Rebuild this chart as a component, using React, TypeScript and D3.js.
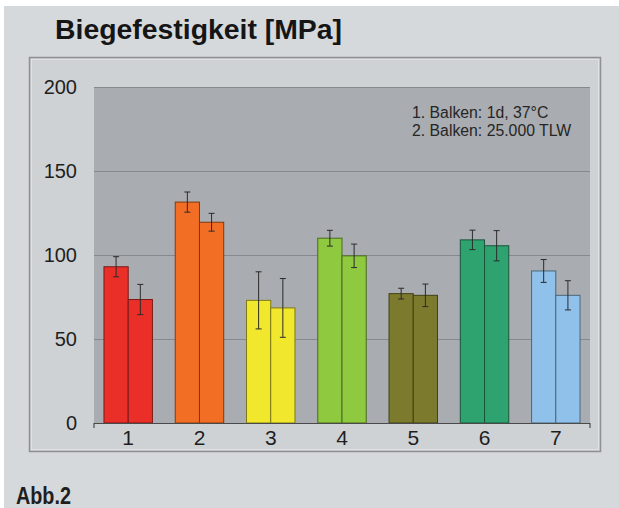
import React from 'react';
import * as d3 from 'd3';

// values
const groups = ['1', '2', '3', '4', '5', '6', '7'];
const series1 = [93, 131.5, 73, 110, 77, 109, 90.5];   // 1d, 37°C
const series2 = [73.5, 119.5, 68.5, 99.5, 76, 105.5, 76]; // 25.000 TLW
const err1 = [6, 6, 17, 4.7, 3.2, 5.8, 6.8];
const err2 = [9, 5.3, 17.5, 7, 6.7, 9, 8.7];
const colors = ['#ea2f29', '#f26e25', '#f1e72c', '#8ec93f', '#7b7a2d', '#2ea36f', '#90c1ea'];
const yTicks = [0, 50, 100, 150, 200];
const legend = ['1. Balken: 1d, 37°C', '2. Balken: 25.000 TLW'];

const W = 619;
const H = 508;
const plot = { left: 94, right: 590, top: 87, bottom: 423 };

export default function App() {
  const x0 = d3.scaleBand()
    .domain(groups)
    .range([plot.left, plot.right])
    .paddingInner(0.32)
    .paddingOuter(0.14);

  const x1 = d3.scaleBand()
    .domain(['a', 'b'])
    .range([0, x0.bandwidth()]);

  const y = d3.scaleLinear()
    .domain([0, 200])
    .range([plot.bottom, plot.top]);

  const font = '"Liberation Sans", Arial, Helvetica, sans-serif';

  const bars = groups.flatMap((g, i) => {
    return [series1[i], series2[i]].map((v, j) => {
      const e = j === 0 ? err1[i] : err2[i];
      const bx = x0(g) + x1(j === 0 ? 'a' : 'b');
      const cx = bx + x1.bandwidth() / 2;
      const c = colors[i];
      return (
        <g key={g + '-' + j}>
          <rect
            x={bx}
            y={y(v)}
            width={x1.bandwidth()}
            height={y(0) - y(v)}
            fill={c}
            stroke={d3.color(c).darker(1.8).formatHex()}
            strokeWidth={1}
          />
          <line x1={cx} x2={cx} y1={y(v + e)} y2={y(v - e)} stroke="#2b2b2b" strokeWidth={1} />
          <line x1={cx - 3} x2={cx + 3} y1={y(v + e)} y2={y(v + e)} stroke="#2b2b2b" strokeWidth={1} />
          <line x1={cx - 3} x2={cx + 3} y1={y(v - e)} y2={y(v - e)} stroke="#2b2b2b" strokeWidth={1} />
        </g>
      );
    });
  });

  return (
    <svg
      width={W}
      height={H}
      style={{ position: 'absolute', left: 0, top: 0, display: 'block' }}
      fontFamily={font}
    >
      <rect x={0} y={0} width={W} height={H} fill="#ffffff" />
      <rect x={4} y={6} width={W - 4} height={H - 6} fill="#d6d9dc" />

      <text x={55} y={39} fontSize={27} fontWeight="bold" fill="#151515" textLength={287} lengthAdjust="spacingAndGlyphs">
        Biegefestigkeit [MPa]
      </text>

      {/* panel */}
      <rect x={29.5} y={57.5} width={571} height={394} fill="#cfd2d5" stroke="#8e9194" strokeWidth={1.5} />
      <rect x={31.5} y={59.5} width={567} height={390} fill="none" stroke="#dfe1e3" strokeWidth={1} />

      {/* plot area */}
      <rect x={plot.left} y={plot.top} width={plot.right - plot.left} height={plot.bottom - plot.top} fill="#a9acb0" />
      {yTicks.filter((t) => t > 0).map((t) => (
        <line key={t} x1={plot.left} x2={plot.right} y1={Math.round(y(t)) + 0.5} y2={Math.round(y(t)) + 0.5} stroke="#85888c" strokeWidth={1} />
      ))}

      {yTicks.map((t) => (
        <text key={t} x={77} y={y(t)} dy="0.36em" textAnchor="end" fontSize={20} fill="#1e1e1e">
          {t}
        </text>
      ))}

      {legend.map((s, i) => (
        <text key={s} x={412} y={117.5 + i * 18.5} fontSize={15.8} fill="#262626">
          {s}
        </text>
      ))}

      {bars}

      {/* x axis */}
      <line x1={plot.left} x2={plot.right} y1={plot.bottom + 0.5} y2={plot.bottom + 0.5} stroke="#4a4a4a" strokeWidth={1.2} />
      <line x1={plot.left} x2={plot.left} y1={plot.bottom} y2={plot.bottom + 5} stroke="#4a4a4a" strokeWidth={1.2} />
      <line x1={plot.right} x2={plot.right} y1={plot.bottom} y2={plot.bottom + 5} stroke="#4a4a4a" strokeWidth={1.2} />
      {groups.map((g) => (
        <text key={g} x={x0(g) + x0.bandwidth() / 2} y={445} textAnchor="middle" fontSize={21} fill="#1e1e1e">
          {g}
        </text>
      ))}

      <text
        transform="translate(16,504) scale(0.86,1)"
        fontSize={23}
        fontWeight="bold"
        fill="#1e1e1e"
      >
        Abb.2
      </text>
    </svg>
  );
}
